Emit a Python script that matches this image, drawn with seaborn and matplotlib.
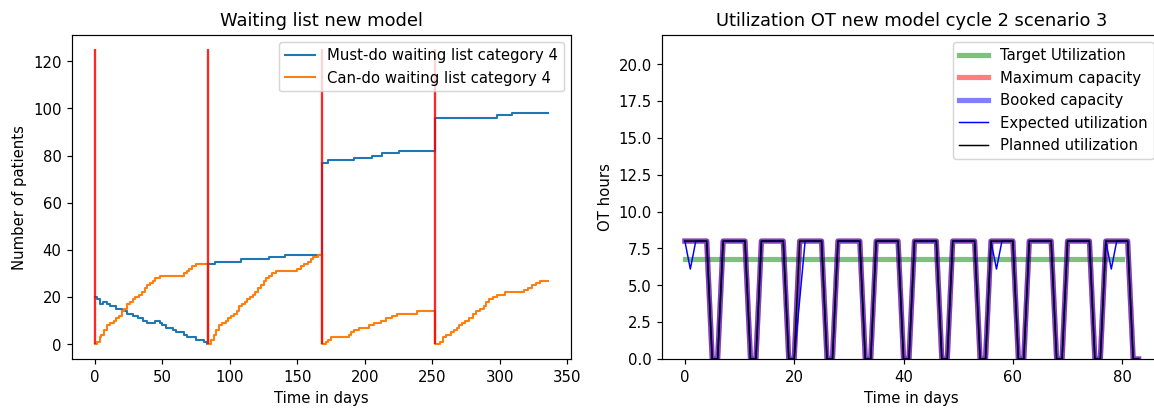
import numpy as np
import matplotlib
matplotlib.use("Agg")
import matplotlib.pyplot as plt
import seaborn as sns

# ---- Waiting list (step change points: day, number of patients) ----
must_do_days = [0, 2, 4, 6, 9, 11, 16, 20, 24, 28, 32, 36, 39, 45, 48, 50, 53, 58, 60, 66, 68, 75, 81, 83,
                84, 89, 108, 129, 141,
                168, 173, 192, 205, 213, 225,
                252, 298, 309, 336]
must_do_vals = [20, 19, 17, 18, 17, 16, 15, 14, 13, 12, 11, 10, 9, 10, 9, 8, 7, 6, 5, 4, 3, 2, 1, 0,
                34, 35, 36, 37, 38,
                77, 78, 79, 80, 81, 82,
                96, 97, 98, 98]

can_do_days = [0, 2, 4, 5, 7, 9, 11, 14, 16, 18, 20, 22, 24, 26, 28, 30, 33, 35, 37, 39, 41, 43, 45, 48,
               66, 68, 70, 72, 75,
               84, 86, 88, 90, 92, 94, 97, 99, 101, 103, 105, 107, 109, 111, 113, 115, 117, 119, 121,
               123, 125, 127, 129, 131, 134, 150, 153, 155, 158, 160, 162, 165,
               168, 171, 173, 175, 188, 190, 192, 196, 203, 207, 212, 216, 220, 224, 239,
               252, 256, 258, 260, 264, 266, 268, 270, 272, 274, 277, 280, 282, 285, 288, 290, 292,
               295, 298, 304, 318, 321, 324, 327, 330, 336]
can_do_vals = [0, 1, 3, 4, 6, 8, 9, 10, 11, 12, 14, 15, 17, 18, 19, 20, 21, 22, 24, 25, 26, 27, 28, 29,
               30, 31, 32, 33, 34,
               0, 2, 4, 6, 8, 9, 10, 11, 12, 13, 14, 16, 17, 18, 19, 20, 21, 22, 24,
               25, 27, 28, 29, 30, 31, 32, 33, 34, 35, 36, 37, 38,
               0, 1, 2, 3, 4, 5, 6, 7, 8, 9, 10, 11, 12, 13, 14,
               0, 1, 3, 4, 5, 6, 7, 8, 9, 10, 11, 13, 14, 15, 16, 18, 19,
               20, 21, 22, 23, 24, 25, 26, 27, 27]

cycle_starts = [0, 84, 168, 252]
cycle_marker_height = 125

# ---- OT utilization, cycle 2 scenario 3 (hours per day) ----
ot_days = list(range(84))
booked_hours = [8, 8, 8, 8, 8, 0, 0,  8, 8, 8, 8, 8, 0, 0,  8, 8, 8, 8, 8, 0, 0,
                8, 8, 8, 8, 8, 0, 0,  8, 8, 8, 8, 8, 0, 0,  8, 8, 8, 8, 8, 0, 0,
                8, 8, 8, 8, 8, 0, 0,  8, 8, 8, 8, 8, 0, 0,  8, 8, 8, 8, 8, 0, 0,
                8, 8, 8, 8, 8, 0, 0,  8, 8, 8, 8, 8, 0, 0,  8, 8, 8, 8, 8, 0, 0]
max_capacity_hours = list(booked_hours)
planned_hours = list(booked_hours)
expected_hours = [8, 6.1, 8, 8, 8, 0, 0,  8, 8, 8, 8, 8, 0, 0,  8, 8, 8, 8, 8, 0, 0,
                  4, 8, 8, 8, 8, 0, 0,  8, 8, 8, 8, 8, 0, 0,  8, 8, 8, 8, 8, 0, 0,
                  8, 8, 8, 8, 8, 0, 0,  8, 8, 8, 8, 8, 0, 0,  8, 6.1, 8, 8, 8, 0, 0,
                  8, 8, 8, 8, 8, 0, 0,  8, 8, 8, 8, 8, 0, 0,  8, 6.1, 8, 8, 8, 0, 0]
target_days = [0, 80]
target_hours = [6.8, 6.8]

DPI = 107
fig = plt.figure(figsize=(1154.3 / DPI, 408.3 / DPI), dpi=DPI)
W, H = 1154, 408
ax1 = fig.add_axes([72 / W, 1 - 359 / H, 499 / W, 324 / H])
ax2 = fig.add_axes([662 / W, 1 - 359 / H, 499 / W, 324 / H])

# Left panel: waiting lists
sns.lineplot(x=must_do_days, y=must_do_vals, ax=ax1, color="#1f77b4", lw=1.4,
             drawstyle="steps-post", estimator=None, sort=False,
             label="Must-do waiting list category 4")
sns.lineplot(x=can_do_days, y=can_do_vals, ax=ax1, color="#ff7f0e", lw=1.4,
             drawstyle="steps-post", estimator=None, sort=False,
             label="Can-do waiting list category 4")
ax1.vlines(cycle_starts, 0, cycle_marker_height, colors="red", lw=1.55, alpha=0.85)
ax1.set_title("Waiting list new model")
ax1.set_xlabel("Time in days")
ax1.set_ylabel("Number of patients")
ax1.legend(loc="upper right")

# Right panel: OT utilization
sns.lineplot(x=target_days, y=target_hours, ax=ax2, color="green", lw=3.5, alpha=0.5,
             estimator=None, sort=False, label="Target Utilization")
sns.lineplot(x=ot_days, y=max_capacity_hours, ax=ax2, color="red", lw=3.5, alpha=0.5,
             estimator=None, sort=False, label="Maximum capacity")
sns.lineplot(x=ot_days, y=booked_hours, ax=ax2, color="blue", lw=3.5, alpha=0.5,
             estimator=None, sort=False, label="Booked capacity")
sns.lineplot(x=ot_days, y=expected_hours, ax=ax2, color="blue", lw=1,
             estimator=None, sort=False, label="Expected utilization")
sns.lineplot(x=ot_days, y=planned_hours, ax=ax2, color="black", lw=1,
             estimator=None, sort=False, label="Planned utilization")
ax2.set_ylim(0, 22)
ax2.set_xlim(-4.15, 87.15)
ax2.set_title("Utilization OT new model cycle 2 scenario 3")
ax2.set_xlabel("Time in days")
ax2.set_ylabel("OT hours")
ax2.legend(loc="upper right")

fig.savefig("out.png", dpi=DPI)
